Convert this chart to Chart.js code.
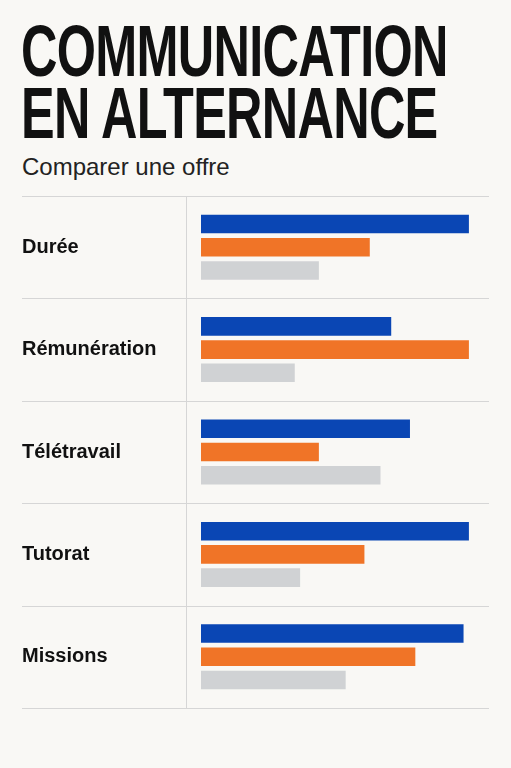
<!DOCTYPE html>
<html lang="fr">
<head>
<meta charset="UTF-8">
<title>Communication en alternance</title>
<script src="https://cdn.jsdelivr.net/npm/chart.js@4"></script>
<style>
  body { margin: 0; background: #f9f8f5; width: 511px; height: 768px; overflow: hidden; font-family: "Liberation Sans", Arial, sans-serif; }
  h1 { position: absolute; left: 21px; top: 20px; margin: 0; font-family: "Liberation Sans", sans-serif; white-space: nowrap;
       font-weight: bold; font-size: 72px; line-height: 62px; letter-spacing: -1px; color: #111; transform: scaleX(0.7); transform-origin: left; }
  .sub { position: absolute; left: 22px; top: 153px; font-size: 24px; color: #222; }
  .wrap { position: absolute; left: 22px; top: 181px; width: 467px; height: 542px; }
</style>
</head>
<body>
<h1>COMMUNICATION<br>EN ALTERNANCE</h1>
<div class="sub">Comparer une offre</div>
<div class="wrap"><canvas id="myChart"></canvas></div>
<script>
  var categories = ['Durée', 'Rémunération', 'Télétravail', 'Tutorat', 'Missions'];
  var blueValues = [100, 71, 78, 100, 98];
  var orangeValues = [63, 100, 44, 61, 80];
  var grayValues = [44, 35, 67, 37, 54];

  // separators between rows, full width
  var rowLines = {
    id: 'rowLines',
    afterDraw: function (chart) {
      var ctx = chart.ctx, y = chart.scales.y, area = chart.chartArea;
      ctx.save();
      ctx.strokeStyle = '#d6d6d6';
      ctx.lineWidth = 1;
      for (var i = 0; i <= categories.length; i++) {
        var py = Math.round(y.getPixelForValue(i - 0.5)) + 0.5;
        ctx.beginPath(); ctx.moveTo(0, py); ctx.lineTo(area.right, py); ctx.stroke();
      }
      ctx.beginPath(); ctx.moveTo(area.left + 0.5, area.top); ctx.lineTo(area.left + 0.5, area.bottom); ctx.stroke();
      ctx.restore();
    }
  };

  var ds = function (data, color) {
    return { data: data, backgroundColor: color, barPercentage: 0.8, categoryPercentage: 0.68 };
  };

  new Chart(document.getElementById('myChart').getContext('2d'), {
    type: 'bar',
    data: {
      labels: categories,
      datasets: [ds(blueValues, '#0a46b4'), ds(orangeValues, '#f07427'), ds(grayValues, '#d0d2d4')]
    },
    options: {
      indexAxis: 'y',
      responsive: true,
      maintainAspectRatio: false,
      animation: false,
      layout: { padding: { top: 7, bottom: 7 } },
      plugins: { legend: { display: false }, tooltip: { enabled: false } },
      scales: {
        x: { display: false, min: -5.6, max: 107.5 },
        y: {
          grid: { display: false },
          border: { display: false },
          afterFit: function (s) { s.width = 164; },
          ticks: { crossAlign: 'far', color: '#111', font: { family: 'Liberation Sans', size: 20, weight: 'bold' } }
        }
      }
    },
    plugins: [rowLines]
  });
</script>
</body>
</html>
